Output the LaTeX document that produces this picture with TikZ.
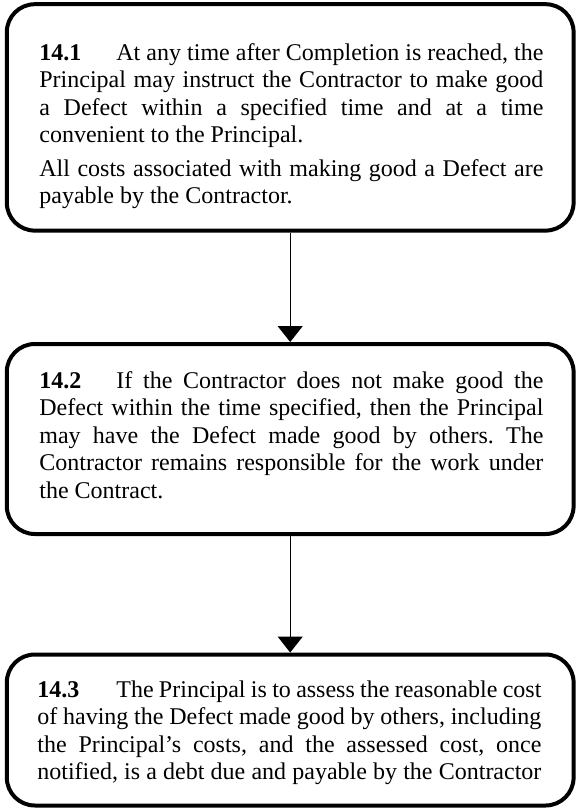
\documentclass[tikz,border=0pt]{standalone}
\usepackage{fontspec}
\setmainfont{Liberation Serif}
\usetikzlibrary{positioning}
\usetikzlibrary{arrows.meta}
\frenchspacing
\hyphenpenalty=10000

\begin{document}
\begin{tikzpicture}[x=1pt,y=1pt,
  box/.style={draw, line width=2pt, rounded corners=14pt, minimum width=283.4pt, inner sep=0pt},
  clause/.style={anchor=base west, inner sep=0pt, text width=252pt, align=justify,
    font=\fontsize{12pt}{13.8pt}\selectfont},
  flow/.style={-{Triangle[width=12.5pt,length=8pt]}, line width=0.65pt}]
\useasboundingbox (0,0) rectangle (288.5,-404.5);

%ramki
\node[box, minimum height=113.2pt] (box1) at (145.1,-58.7) {};
\node[box, minimum height=95pt] (box2) at (145.1,-219.5) {};
\node[box, minimum height=75.5pt] (box3) at (145.1,-365) {};

%punkt 14.1
\node[clause] (clause1) at (19.5,-30) {\makebox[38.5pt][l]{\textbf{14.1}}At any time after Completion is reached, the\linebreak
Principal may instruct the Contractor to make good\linebreak
a Defect within a specified time and at a time\linebreak
convenient to the Principal.\par\vspace{2.8pt}
All costs associated with making good a Defect are\linebreak
payable by the Contractor.};

%punkt 14.2
\node[clause] (clause2) at (19.5,-194) {\makebox[38.5pt][l]{\textbf{14.2}}If the Contractor does not make good the\linebreak
Defect within the time specified, then the Principal\linebreak
may have the Defect made good by others. The\linebreak
Contractor remains responsible for the work under\linebreak
the Contract.};

%punkt 14.3
\node[clause] (clause3) at (18.5,-348.5) {\makebox[39.5pt][l]{\textbf{14.3}}The Principal is to assess the reasonable cost\linebreak
of having the Defect made good by others, including\linebreak
the Principal’s costs, and the assessed cost, once\linebreak
notified, is a debt due and payable by the Contractor{\parfillskip=0pt\par}};

%strzalki
\draw[flow] (box1.south) -- (box2.north);
\draw[flow] (box2.south) -- (box3.north);
\end{tikzpicture}
\end{document}
